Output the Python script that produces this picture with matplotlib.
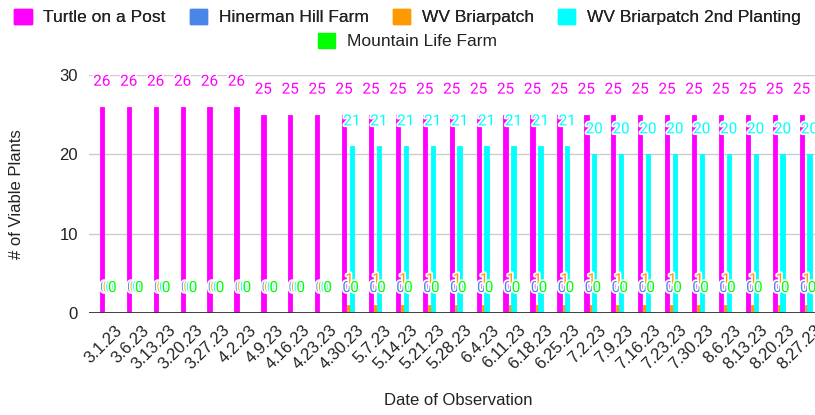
import matplotlib
matplotlib.use("Agg")
import matplotlib.pyplot as plt
import matplotlib.patheffects as pe
from matplotlib.patches import Patch
import numpy as np

dates = ["3.1.23", "3.6.23", "3.13.23", "3.20.23", "3.27.23", "4.2.23", "4.9.23",
         "4.16.23", "4.23.23", "4.30.23", "5.7.23", "5.14.23", "5.21.23", "5.28.23",
         "6.4.23", "6.11.23", "6.18.23", "6.25.23", "7.2.23", "7.9.23", "7.16.23",
         "7.23.23", "7.30.23", "8.6.23", "8.13.23", "8.20.23", "8.27.23"]

turtle = [26, 26, 26, 26, 26, 26, 25, 25, 25, 25, 25, 25, 25, 25, 25, 25, 25, 25,
          25, 25, 25, 25, 25, 25, 25, 25, 25]
hinerman = [0] * 27
briarpatch = [0, 0, 0, 0, 0, 0, 0, 0, 0, 1, 1, 1, 1, 1, 1, 1, 1, 1,
              1, 1, 1, 1, 1, 1, 1, 1, 1]
briarpatch2 = [0, 0, 0, 0, 0, 0, 0, 0, 0, 21, 21, 21, 21, 21, 21, 21, 21, 21,
               20, 20, 20, 20, 20, 20, 20, 20, 20]
mountain = [0] * 27

series_names = ["Turtle on a Post", "Hinerman Hill Farm", "WV Briarpatch",
                "WV Briarpatch 2nd Planting", "Mountain Life Farm"]
series_values = [turtle, hinerman, briarpatch, briarpatch2, mountain]
colors = ["#FF00FF", "#4A86E8", "#FF9900", "#00FFFF", "#00FF00"]
bar_z = [2.5, 2.1, 2.0, 2.4, 2.2]

BASE_FONT = ["Liberation Sans", "DejaVu Sans"]
LABEL_FONT = ["Roboto", "DejaVu Sans"]
TEXT_COLOR = "#222222"

fig = plt.figure(figsize=(8.15, 4.15), dpi=100)
ax = fig.add_axes([0.1092, 0.2458, 0.891, 0.5735])

x = np.arange(len(dates))
slot = 0.097
width = 0.16

for k, (vals, col) in enumerate(zip(series_values, colors)):
    xs = x + k * slot
    ax.bar(xs, vals, width=width, color=col, edgecolor=col, linewidth=0.6,
           zorder=bar_z[k])

# data labels (drawn after all bars)
for k, (vals, col) in enumerate(zip(series_values, colors)):
    xs = x + k * slot
    for xi, v in zip(xs, vals):
        ax.annotate(str(v), (xi, v), xytext=(0, 18), textcoords="offset points",
                    ha="center", va="center", fontsize=11, color=col,
                    family=LABEL_FONT, zorder=5 + k * 0.01, clip_on=False,
                    path_effects=[pe.withStroke(linewidth=2.5, foreground="white")])

ax.set_xlim(-0.48, 26.5)
ax.set_ylim(0, 30)
ax.set_yticks([0, 10, 20, 30])
ax.yaxis.grid(True, color="#CCCCCC", linewidth=1)
ax.set_axisbelow(True)
ax.axhline(0, color="#333333", linewidth=1.3, zorder=4)
for s in ax.spines.values():
    s.set_visible(False)
ax.tick_params(axis="both", length=0, labelsize=12, colors=TEXT_COLOR)
ax.tick_params(axis="y", pad=8)
ax.tick_params(axis="x", pad=7)
ax.set_xticks(x + 0.45)
ax.set_xticklabels(dates, rotation=45, ha="right", va="top",
                   rotation_mode="anchor", family=BASE_FONT)
for lab in ax.get_yticklabels():
    lab.set_family(BASE_FONT)

fig.text(458 / 815, 1 - 400 / 415, "Date of Observation", fontsize=12,
         color=TEXT_COLOR, family=BASE_FONT, ha="center", va="center")
fig.text(17 / 815, 1 - 194 / 415, "# of Viable Plants", fontsize=12,
         color=TEXT_COLOR, family=BASE_FONT, ha="center", va="center",
         rotation=90)

handles = [Patch(facecolor=c, edgecolor=c) for c in colors]
leg_kw = dict(loc="center", frameon=False,
              prop={"family": BASE_FONT, "size": 12.5},
              handlelength=1.0, handleheight=1.0, handletextpad=0.66,
              labelcolor=TEXT_COLOR, borderpad=0, borderaxespad=0)
leg1 = fig.legend(handles[:4], series_names[:4],
                  bbox_to_anchor=(0.5, 1 - 17 / 415), ncol=4,
                  columnspacing=1.4, **leg_kw)
leg2 = fig.legend(handles[4:], series_names[4:],
                  bbox_to_anchor=(0.5, 1 - 41 / 415), ncol=1, **leg_kw)
fig.add_artist(leg1)

fig.savefig("out.png", dpi=100)
